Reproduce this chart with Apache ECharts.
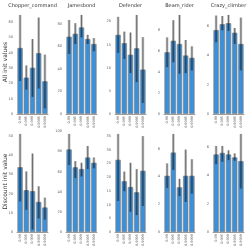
<!DOCTYPE html>
<html><head><meta charset="utf-8">
<script src="https://cdn.jsdelivr.net/npm/echarts@6/dist/echarts.min.js"></script>
<style>html,body{margin:0;padding:0;background:#fff}#c{width:249px;height:249px}</style>
</head><body><div id="c"></div>
<script>
const categories = ['0.99', '0.995', '0.999', '0.9995', '0.9999'];
const titles = ['Chopper_command', 'Jamesbond', 'Defender', 'Beam_rider', 'Crazy_climber'];
const rowNames = ['All init values', 'Discount init value'];

// Row 1: All init values
const chopperAll = [43.0, 23.7, 30.1, 39.6, 21.3];
const chopperAllLow = [21.5, 15.9, 11.2, 16.6, 3.7];
const chopperAllHigh = [64.5, 31.6, 48.8, 62.8, 38.7];
const jamesAll = [68.6, 71.2, 76.8, 66.5, 62.1];
const jamesAllLow = [53.3, 62.1, 68.0, 62.1, 55.7];
const jamesAllHigh = [83.5, 80.6, 87.9, 70.3, 67.4];
const defenderAll = [17.1, 15.3, 12.8, 14.2, 9.6];
const defenderAllLow = [13.2, 11.9, 8.85, 6.9, 2.4];
const defenderAllHigh = [21.0, 17.8, 17.6, 21.4, 16.6];
const beamAll = [5.89, 6.99, 6.68, 5.58, 5.36];
const beamAllLow = [4.47, 4.94, 3.85, 3.9, 4.16];
const beamAllHigh = [7.31, 8.95, 9.45, 7.06, 6.46];
const crazyAll = [5.71, 6.11, 6.18, 5.53, 4.77];
const crazyAllLow = [4.88, 5.7, 5.66, 4.77, 2.97];
const crazyAllHigh = [6.7, 6.67, 6.74, 5.85, 6.56];

// Row 2: Discount init value
const chopperDisc = [33.7, 21.8, 21.3, 15.7, 12.8];
const chopperDiscLow = [16.0, 11.6, 1.4, 7.1, 6.5];
const chopperDiscHigh = [51.0, 31.5, 40.8, 23.8, 17.9];
const jamesDisc = [82.0, 64.3, 62.6, 74.0, 68.8];
const jamesDiscLow = [66.5, 53.6, 55.2, 62.6, 63.3];
const jamesDiscHigh = [97.4, 70.4, 68.8, 85.4, 74.0];
const defenderDisc = [26.3, 18.5, 16.4, 14.5, 22.3];
const defenderDiscLow = [11.3, 14.9, 7.4, 6.2, 9.5];
const defenderDiscHigh = [35.7, 22.0, 25.2, 22.9, 34.9];
const beamDisc = [4.05, 5.72, 3.22, 4.05, 4.05];
const beamDiscLow = [3.18, 4.47, 2.59, 2.17, 2.77];
const beamDiscHigh = [4.94, 7.06, 3.83, 5.93, 5.24];
const crazyDisc = [5.49, 5.6, 5.49, 5.28, 5.02];
const crazyDiscLow = [4.8, 4.98, 5.09, 5.05, 3.08];
const crazyDiscHigh = [6.09, 6.09, 5.78, 5.56, 6.94];

const yIntervals = [10, 20, 5, 2, 2];

const panels = [
  [[chopperAll, chopperAllLow, chopperAllHigh], [jamesAll, jamesAllLow, jamesAllHigh],
   [defenderAll, defenderAllLow, defenderAllHigh], [beamAll, beamAllLow, beamAllHigh],
   [crazyAll, crazyAllLow, crazyAllHigh]],
  [[chopperDisc, chopperDiscLow, chopperDiscHigh], [jamesDisc, jamesDiscLow, jamesDiscHigh],
   [defenderDisc, defenderDiscLow, defenderDiscHigh], [beamDisc, beamDiscLow, beamDiscHigh],
   [crazyDisc, crazyDiscLow, crazyDiscHigh]]
];

const colLeft = [17, 66, 115, 164, 213];
const colWidth = 31;
const rowTop = [10, 129];
const rowHeight = [104, 105];

const grids = [], xAxes = [], yAxes = [], series = [], graphics = [];
let gi = 0;
for (let r = 0; r < 2; r++) {
  for (let c = 0; c < 5; c++) {
    const [vals, lows, highs] = panels[r][c];
    grids.push({left: colLeft[c], top: rowTop[r], width: colWidth, height: rowHeight[r]});
    xAxes.push({
      type: 'category', gridIndex: gi, data: categories,
      axisLine: {show: true, lineStyle: {color: '#a0a0a0', width: 1}},
      axisTick: {show: false},
      axisLabel: {rotate: 90, fontSize: 3.4, color: '#666', margin: 2, fontFamily: 'DejaVu Sans', interval: 0}
    });
    yAxes.push({
      type: 'value', gridIndex: gi, min: 0, max: Math.max(...highs) * 1.05,
      interval: yIntervals[c],
      splitLine: {show: false}, axisLine: {show: false}, axisTick: {show: false},
      axisLabel: {fontSize: 3.6, color: '#666', margin: 4, showMaxLabel: false, fontFamily: 'DejaVu Sans'}
    });
    series.push({
      type: 'bar', xAxisIndex: gi, yAxisIndex: gi, data: vals,
      barCategoryGap: '14%',
      itemStyle: {color: '#3b90da', borderColor: '#808080', borderWidth: 0.7},
      silent: true, animation: false
    });
    const errData = lows.map((lo, i) => [i, lo, highs[i]]);
    series.push({
      type: 'custom', xAxisIndex: gi, yAxisIndex: gi, data: errData,
      animation: false, silent: true, z: 5,
      renderItem: function (params, api) {
        const x = api.value(0);
        const p1 = api.coord([x, api.value(1)]);
        const p2 = api.coord([x, api.value(2)]);
        return {type: 'group', children: [
          {type: 'line', shape: {x1: p1[0], y1: p1[1], x2: p2[0], y2: p2[1]},
           style: {stroke: 'rgba(0,0,0,0.27)', lineWidth: 2.6}},
          {type: 'line', shape: {x1: p1[0], y1: p1[1], x2: p2[0], y2: p2[1]},
           style: {stroke: 'rgba(30,30,30,0.7)', lineWidth: 0.7}}
        ]};
      }
    });
    gi++;
  }
}
for (let c = 0; c < 5; c++) {
  graphics.push({type: 'text', x: colLeft[c] + colWidth / 2, y: 6,
    style: {text: titles[c], fontSize: 5, fill: '#333', fontFamily: 'DejaVu Sans', align: 'center', verticalAlign: 'middle'}});
}
for (let r = 0; r < 2; r++) {
  graphics.push({type: 'text', x: 5, y: rowTop[r] + rowHeight[r] / 2, rotation: Math.PI / 2,
    style: {text: rowNames[r], fontSize: 6, fill: '#333', fontFamily: 'DejaVu Sans', align: 'center', verticalAlign: 'middle'}});
}

const chart = echarts.init(document.getElementById('c'), null, {renderer: 'canvas'});
chart.setOption({
  animation: false,
  grid: grids, xAxis: xAxes, yAxis: yAxes, series: series,
  graphic: graphics
});
</script></body></html>
